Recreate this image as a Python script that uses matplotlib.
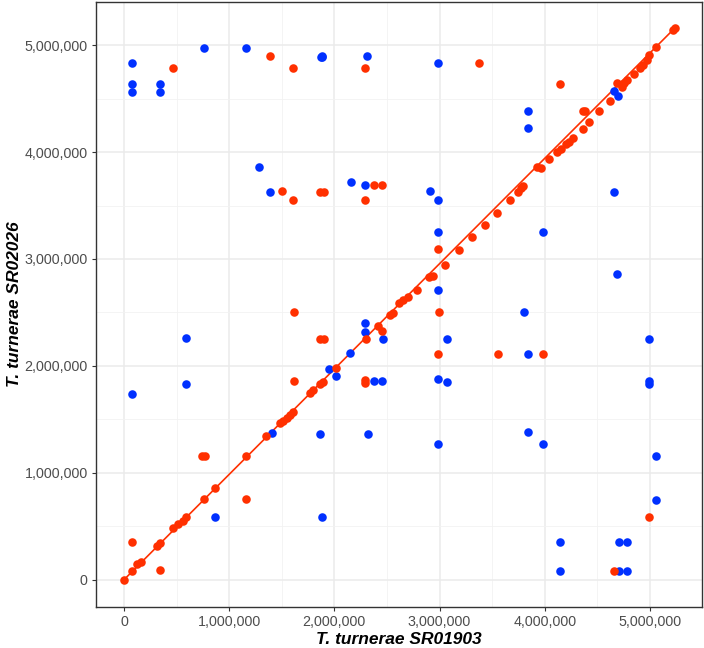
import matplotlib
matplotlib.use('Agg')
import matplotlib.pyplot as plt
from matplotlib.ticker import FuncFormatter, MultipleLocator
import numpy as np

# positions in Mb
# collinear (same orientation) matches along the diagonal
diag_x = [0.0, 0.073, 0.12, 0.159, 0.31, 0.342, 0.469, 0.516, 0.558, 0.589,
          0.763, 0.865, 1.157, 1.35, 1.483, 1.514, 1.546, 1.578, 1.604,
          1.77, 1.80, 1.863, 1.889, 2.015, 2.30, 2.418, 2.455, 2.528, 2.56,
          2.614, 2.655, 2.703, 2.782, 2.902, 2.94, 3.051, 3.187, 3.305,
          3.431, 3.549, 3.669, 3.748, 3.774, 3.796, 3.923, 3.961, 4.043,
          4.119, 4.151, 4.202, 4.233, 4.271, 4.36, 4.423, 4.518, 4.62,
          4.69, 4.731, 4.756, 4.785, 4.848, 4.905, 4.937, 4.975, 4.994,
          5.057, 5.216, 5.241]
diag_y = [0.0, 0.084, 0.147, 0.168, 0.315, 0.346, 0.481, 0.521, 0.552, 0.584,
          0.755, 0.855, 1.157, 1.344, 1.463, 1.487, 1.51, 1.541, 1.572,
          1.749, 1.775, 1.831, 1.852, 1.978, 2.249, 2.373, 2.33, 2.476, 2.498,
          2.586, 2.616, 2.647, 2.71, 2.829, 2.841, 2.944, 3.084, 3.203,
          3.318, 3.433, 3.552, 3.63, 3.661, 3.683, 3.863, 3.854, 3.935,
          4.004, 4.029, 4.073, 4.097, 4.135, 4.216, 4.284, 4.384, 4.478,
          4.643, 4.612, 4.643, 4.674, 4.728, 4.784, 4.815, 4.862, 4.908,
          4.98, 5.142, 5.164]

# other forward matches (red, off the diagonal)
fwd_x = [0.464, 1.387, 1.607, 2.295, 3.378, 4.146, 4.378, 1.502, 1.607,
         1.867, 1.905, 2.374, 2.454, 2.295, 2.981, 1.613, 2.997, 1.86, 1.90,
         2.981, 3.552, 3.981, 1.613, 2.29, 2.29, 0.74, 0.77, 1.159, 4.994,
         0.073, 0.34, 4.654, 4.366]
fwd_y = [4.79, 4.897, 4.79, 4.79, 4.835, 4.634, 4.383, 3.632, 3.551,
         3.626, 3.626, 3.688, 3.688, 3.554, 3.093, 2.505, 2.505, 2.252, 2.252,
         2.112, 2.112, 2.112, 1.862, 1.87, 1.84, 1.153, 1.153, 0.751, 0.583,
         0.355, 0.087, 0.084, 4.384]

# reverse matches (blue)
rev_x = [0.079, 0.073, 0.073, 0.34, 0.34, 0.762, 1.159, 1.872, 1.879, 1.886,
         2.308, 2.981, 3.838, 3.838, 4.658, 4.699, 1.279, 1.387, 2.155,
         2.295, 2.908, 2.981, 4.663, 2.981, 3.981, 4.686, 2.981, 3.803,
         2.295, 2.295, 0.59, 2.46, 3.067, 4.994, 2.148, 3.838, 1.952, 2.016,
         0.59, 2.374, 2.454, 2.981, 3.067, 4.994, 4.994, 0.079, 1.404, 1.863,
         2.317, 2.981, 3.838, 3.981, 5.06, 5.06, 0.867, 1.886, 4.146, 4.705,
         4.778, 4.146, 4.705, 4.778]
rev_y = [4.835, 4.636, 4.56, 4.636, 4.56, 4.97, 4.97, 4.886, 4.896, 4.888,
         4.903, 4.835, 4.383, 4.227, 4.571, 4.528, 3.863, 3.626, 3.722,
         3.688, 3.636, 3.554, 3.626, 3.255, 3.255, 2.863, 2.71, 2.505,
         2.404, 2.32, 2.262, 2.249, 2.252, 2.255, 2.118, 2.112, 1.968, 1.906,
         1.832, 1.862, 1.862, 1.882, 1.85, 1.86, 1.83, 1.735, 1.375, 1.36,
         1.359, 1.274, 1.38, 1.274, 1.153, 0.748, 0.589, 0.583, 0.355, 0.355,
         0.355, 0.084, 0.084, 0.084]

red = '#FF3000'
blue = '#0030FF'

to_bp = lambda v: np.array(v) * 1e6

plt.rcParams['font.family'] = ['Liberation Sans', 'DejaVu Sans']

fig = plt.figure(figsize=(7.04, 6.48), dpi=100)
ax = fig.add_axes([0.1364, 0.0633, 0.8606, 0.9337])

ax.plot(to_bp([diag_x[0], diag_x[-1]]), to_bp([diag_y[0], diag_y[-1]]),
        color=red, lw=1.2, zorder=3)
ax.scatter(to_bp(rev_x), to_bp(rev_y), s=38, color=blue, lw=0, zorder=4)
ax.scatter(to_bp(fwd_x), to_bp(fwd_y), s=38, color=red, lw=0, zorder=5)
ax.scatter(to_bp(diag_x), to_bp(diag_y), s=38, color=red, lw=0, zorder=5)

ax.set_xlim(-0.266e6, 5.494e6)
ax.set_ylim(-0.255e6, 5.404e6)
ax.xaxis.set_major_locator(MultipleLocator(1e6))
ax.yaxis.set_major_locator(MultipleLocator(1e6))
ax.xaxis.set_minor_locator(MultipleLocator(5e5))
ax.yaxis.set_minor_locator(MultipleLocator(5e5))
fmt = FuncFormatter(lambda v, p: f'{int(round(v)):,}')
ax.xaxis.set_major_formatter(fmt)
ax.yaxis.set_major_formatter(fmt)

ax.grid(which='major', color='#EBEBEB', lw=1.1, zorder=0)
ax.grid(which='minor', color='#F2F2F2', lw=0.6, zorder=0)
ax.set_axisbelow(True)
for sp in ax.spines.values():
    sp.set_color('#333333')
    sp.set_linewidth(1.0)
ax.tick_params(which='major', length=3, width=0.8, color='#333333',
               labelsize=10.3, labelcolor='#4D4D4D', pad=3)
ax.tick_params(which='minor', length=0)

ax.set_xlabel('T. turnerae SR01903', fontsize=12.5, fontweight='bold',
              fontstyle='italic', labelpad=2)
ax.set_ylabel('T. turnerae SR02026', fontsize=12.5, fontweight='bold',
              fontstyle='italic')
ax.yaxis.set_label_coords(-0.122, 0.5)

fig.savefig('out.png', dpi=100)
